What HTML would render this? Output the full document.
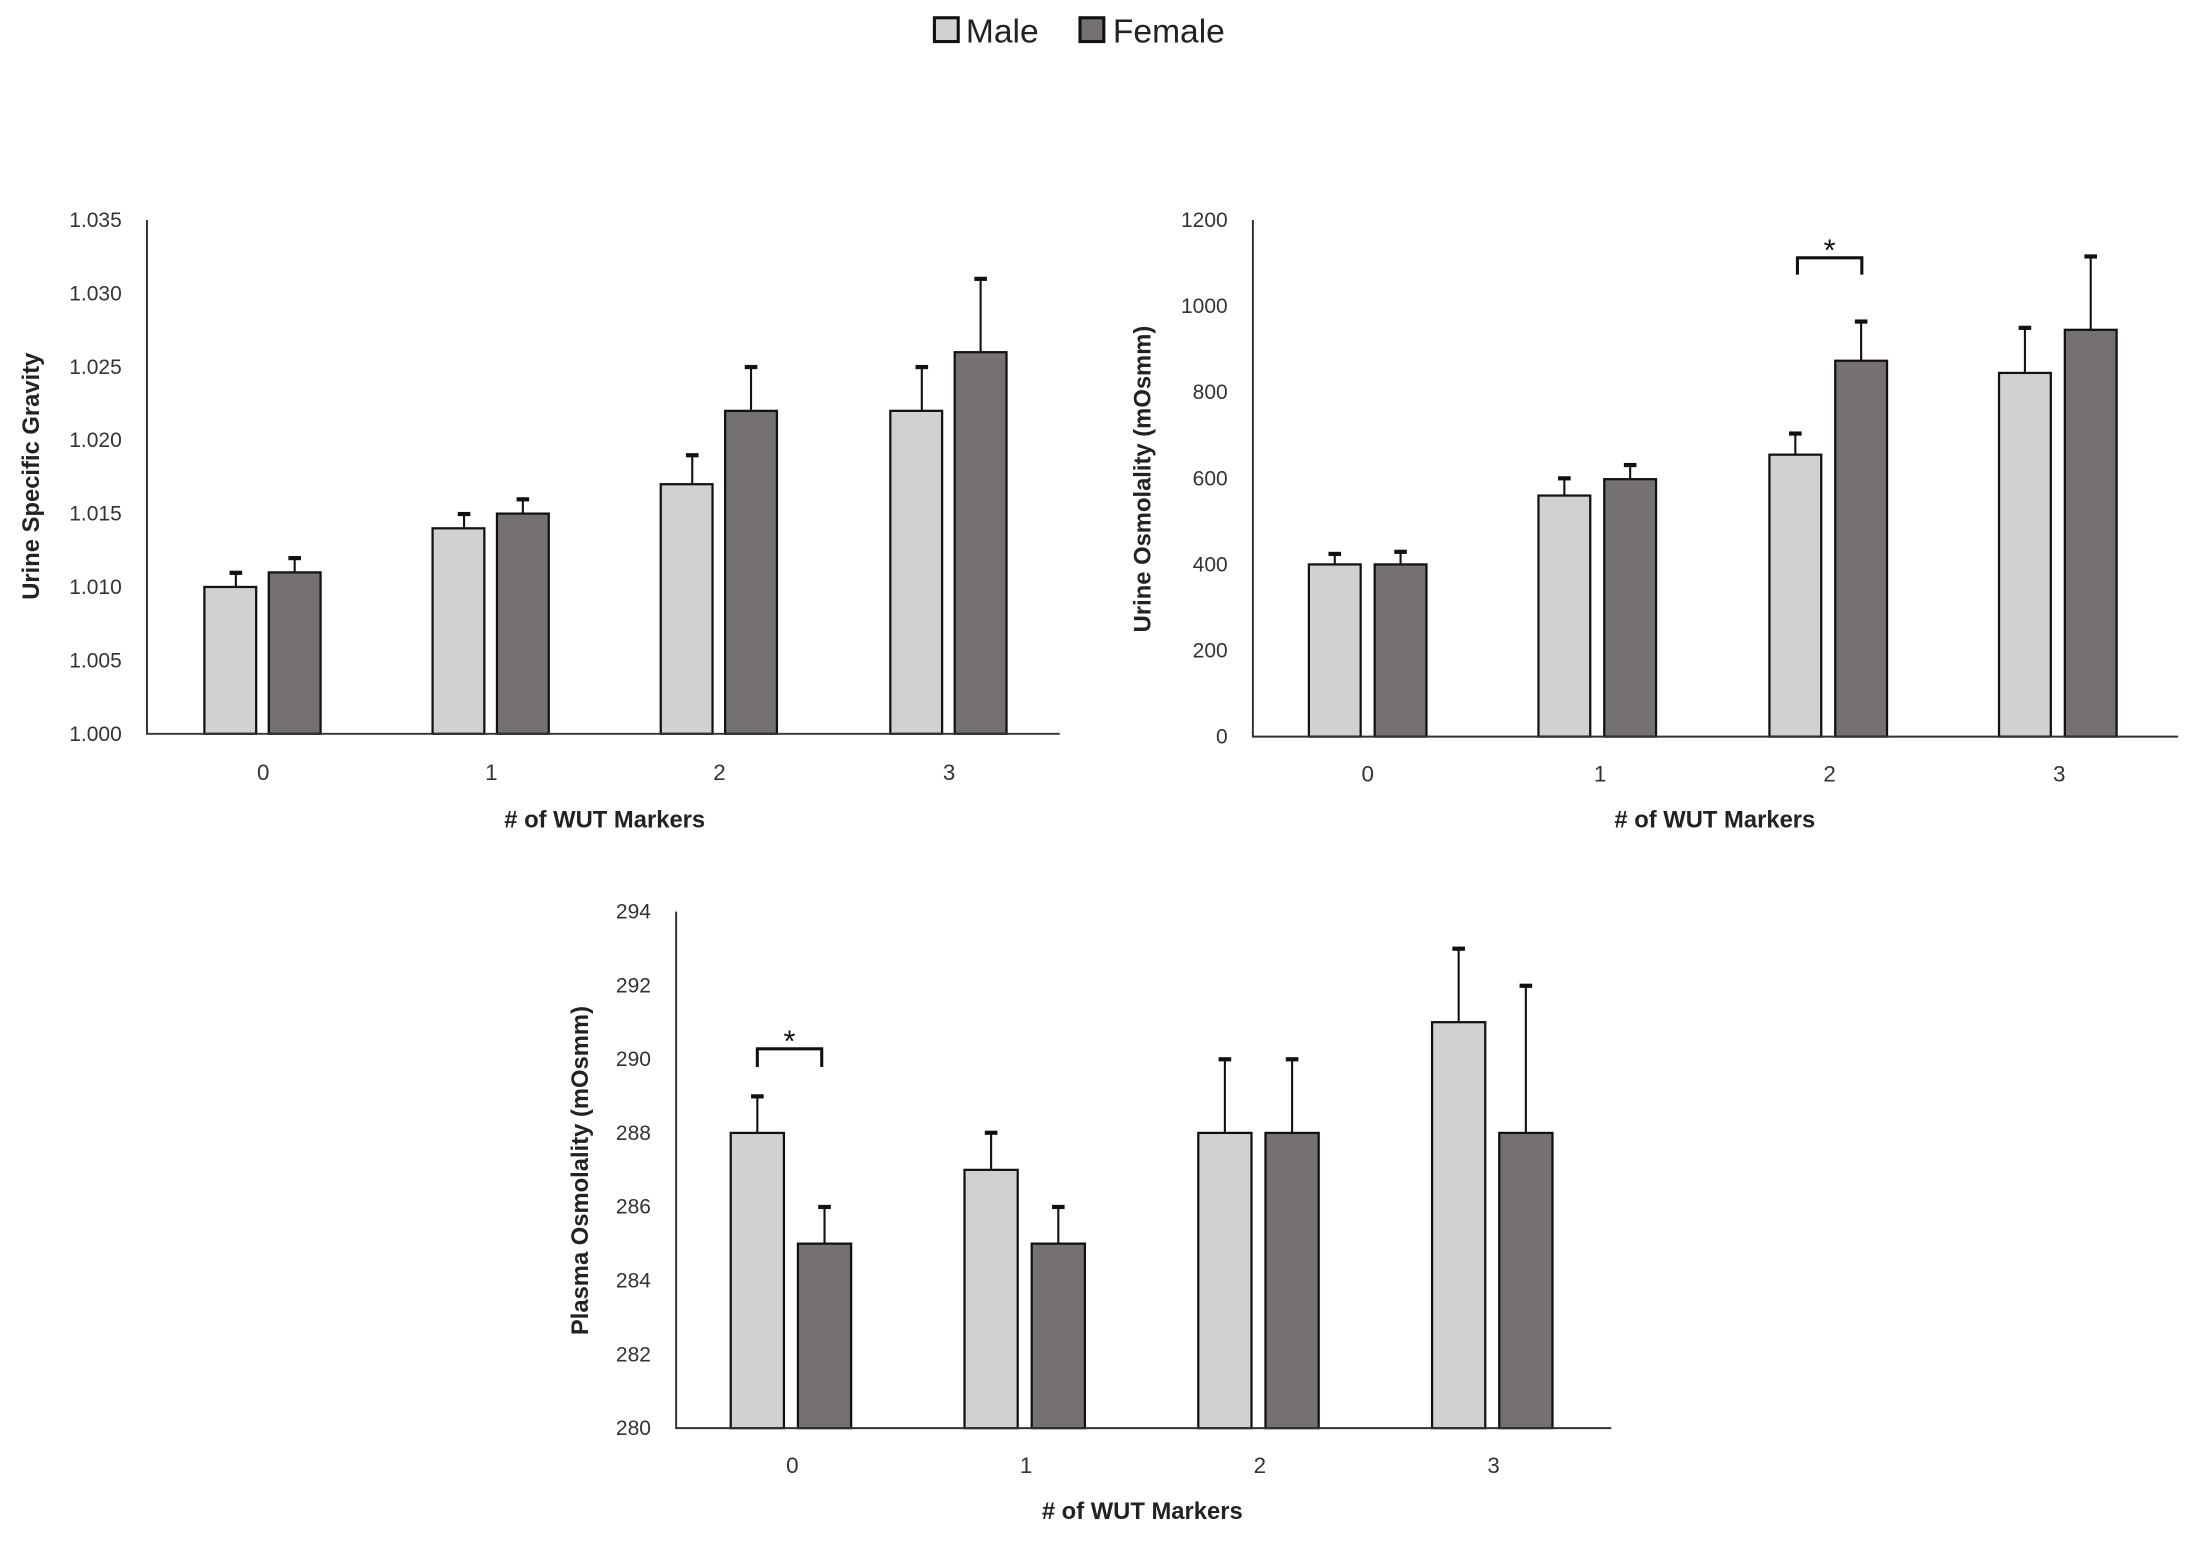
<!DOCTYPE html>
<html><head><meta charset="utf-8"><style>
html,body{margin:0;padding:0;background:#fff;}
svg{display:block;}
text{font-family:"Liberation Sans",sans-serif;}
.t{font-size:15px;fill:#333;}
.ti{font-size:16px;fill:#333;}
.ax{font-size:17px;font-weight:bold;fill:#222;}
.m{fill:#d2d0d0;stroke:#111;stroke-width:1.6;}
.f{fill:#757170;stroke:#111;stroke-width:1.6;}
.e{stroke:#111;stroke-width:1.5;fill:none;}
.c{stroke:#111;stroke-width:3;}
.axis{stroke:#333;stroke-width:1.4;fill:none;}
</style></head><body>
<svg width="2195" height="1546" viewBox="0 0 1568 1104" xmlns="http://www.w3.org/2000/svg">
<!-- legend -->
<rect x="667.5" y="12.5" width="17" height="17" fill="#d2d0d0" stroke="#111" stroke-width="2.2"/>
<text x="690" y="30" style="font-size:24px;fill:#222">Male</text>
<rect x="771.5" y="12.5" width="17" height="17" fill="#757170" stroke="#111" stroke-width="2.2"/>
<text x="795" y="30" style="font-size:24px;fill:#222">Female</text>

<!-- Chart 1 -->
<g>
<g class="t" text-anchor="end">
<text x="87" y="162">1.035</text><text x="87" y="214.4">1.030</text><text x="87" y="266.9">1.025</text>
<text x="87" y="319.3">1.020</text><text x="87" y="371.7">1.015</text><text x="87" y="424.1">1.010</text>
<text x="87" y="476.6">1.005</text><text x="87" y="529">1.000</text>
</g>
<text class="ax" transform="translate(28,340) rotate(-90)" text-anchor="middle">Urine Specific Gravity</text>
<line class="e" x1="168.5" y1="419.1" x2="168.5" y2="408.7"/><line class="c" x1="164" y1="409" x2="173" y2="409"/>
<line class="e" x1="331.5" y1="377.2" x2="331.5" y2="366.7"/><line class="c" x1="327" y1="367" x2="336" y2="367"/>
<line class="e" x1="494.5" y1="345.7" x2="494.5" y2="324.8"/><line class="c" x1="490" y1="325" x2="499" y2="325"/>
<line class="e" x1="658.5" y1="293.3" x2="658.5" y2="261.9"/><line class="c" x1="654" y1="262" x2="663" y2="262"/>
<line class="e" x1="210.5" y1="408.7" x2="210.5" y2="398.2"/><line class="c" x1="206" y1="398.5" x2="215" y2="398.5"/>
<line class="e" x1="373.5" y1="366.7" x2="373.5" y2="356.2"/><line class="c" x1="369" y1="356.5" x2="378" y2="356.5"/>
<line class="e" x1="536.5" y1="293.3" x2="536.5" y2="261.9"/><line class="c" x1="532" y1="262" x2="541" y2="262"/>
<line class="e" x1="700.5" y1="251.4" x2="700.5" y2="198.9"/><line class="c" x1="696" y1="199" x2="705" y2="199"/>
<rect class="m" x="146" y="419.1" width="37" height="104.9"/>
<rect class="m" x="309" y="377.2" width="37" height="146.8"/>
<rect class="m" x="472" y="345.7" width="37" height="178.3"/>
<rect class="m" x="636" y="293.3" width="37" height="230.7"/>
<rect class="f" x="192" y="408.7" width="37" height="115.3"/>
<rect class="f" x="355" y="366.7" width="37" height="157.3"/>
<rect class="f" x="518" y="293.3" width="37" height="230.7"/>
<rect class="f" x="682" y="251.4" width="37" height="272.6"/>
<polyline class="axis" points="105,157 105,524 757,524"/>
<g class="ti" text-anchor="middle">
<text x="188" y="557">0</text><text x="351" y="557">1</text><text x="514" y="557">2</text><text x="678" y="557">3</text>
</g>
<text class="ax" x="432" y="591" text-anchor="middle"># of WUT Markers</text>
</g>

<!-- Chart 2 -->
<g>
<g class="t" text-anchor="end">
<text x="877" y="162">1200</text><text x="877" y="223.5">1000</text><text x="877" y="285">800</text>
<text x="877" y="346.5">600</text><text x="877" y="408">400</text><text x="877" y="469.5">200</text><text x="877" y="531">0</text>
</g>
<text class="ax" transform="translate(822,342) rotate(-90)" text-anchor="middle">Urine Osmolality (mOsmm)</text>
<line class="e" x1="953.5" y1="403" x2="953.5" y2="395.3"/><line class="c" x1="949" y1="395.5" x2="958" y2="395.5"/>
<line class="e" x1="1117.5" y1="353.8" x2="1117.5" y2="341.5"/><line class="c" x1="1113" y1="341.5" x2="1122" y2="341.5"/>
<line class="e" x1="1282.5" y1="324.6" x2="1282.5" y2="309.2"/><line class="c" x1="1278" y1="309.5" x2="1287" y2="309.5"/>
<line class="e" x1="1446.5" y1="266.2" x2="1446.5" y2="233.9"/><line class="c" x1="1442" y1="234" x2="1451" y2="234"/>
<line class="e" x1="1000.5" y1="403" x2="1000.5" y2="393.8"/><line class="c" x1="996" y1="394" x2="1005" y2="394"/>
<line class="e" x1="1164.5" y1="342.1" x2="1164.5" y2="331.7"/><line class="c" x1="1160" y1="332" x2="1169" y2="332"/>
<line class="e" x1="1329.5" y1="257.5" x2="1329.5" y2="229.3"/><line class="c" x1="1325" y1="229.5" x2="1334" y2="229.5"/>
<line class="e" x1="1493.5" y1="235.4" x2="1493.5" y2="183.1"/><line class="c" x1="1489" y1="183" x2="1498" y2="183"/>
<rect class="m" x="935" y="403" width="37" height="123"/>
<rect class="m" x="1099" y="353.8" width="37" height="172.2"/>
<rect class="m" x="1264" y="324.6" width="37" height="201.4"/>
<rect class="m" x="1428" y="266.2" width="37" height="259.8"/>
<rect class="f" x="982" y="403" width="37" height="123"/>
<rect class="f" x="1146" y="342.1" width="37" height="183.9"/>
<rect class="f" x="1311" y="257.5" width="37" height="268.5"/>
<rect class="f" x="1475" y="235.4" width="37" height="290.6"/>
<polyline class="axis" points="895,157 895,526 1556,526"/>
<polyline points="1284,196 1284,184 1330,184 1330,196" fill="none" stroke="#111" stroke-width="2.2"/>
<text x="1307" y="186" text-anchor="middle" style="font-size:22px;fill:#111">*</text>
<g class="ti" text-anchor="middle">
<text x="977" y="558">0</text><text x="1143" y="558">1</text><text x="1307" y="558">2</text><text x="1471" y="558">3</text>
</g>
<text class="ax" x="1225" y="591" text-anchor="middle"># of WUT Markers</text>
</g>

<!-- Chart 3 -->
<g>
<g class="t" text-anchor="end">
<text x="465" y="656">294</text><text x="465" y="708.7">292</text><text x="465" y="761.4">290</text>
<text x="465" y="814.1">288</text><text x="465" y="866.8">286</text><text x="465" y="919.6">284</text>
<text x="465" y="972.3">282</text><text x="465" y="1025">280</text>
</g>
<text class="ax" transform="translate(420,836) rotate(-90)" text-anchor="middle">Plasma Osmolality (mOsmm)</text>
<line class="e" x1="541" y1="809.1" x2="541" y2="782.8"/><line class="c" x1="536.5" y1="783" x2="545.5" y2="783"/>
<line class="e" x1="708" y1="835.5" x2="708" y2="809.1"/><line class="c" x1="703.5" y1="809" x2="712.5" y2="809"/>
<line class="e" x1="875" y1="809.1" x2="875" y2="756.4"/><line class="c" x1="870.5" y1="756.5" x2="879.5" y2="756.5"/>
<line class="e" x1="1042" y1="730" x2="1042" y2="677.3"/><line class="c" x1="1037.5" y1="677.5" x2="1046.5" y2="677.5"/>
<line class="e" x1="589" y1="888.2" x2="589" y2="861.8"/><line class="c" x1="584.5" y1="862" x2="593.5" y2="862"/>
<line class="e" x1="756" y1="888.2" x2="756" y2="861.8"/><line class="c" x1="751.5" y1="862" x2="760.5" y2="862"/>
<line class="e" x1="923" y1="809.1" x2="923" y2="756.4"/><line class="c" x1="918.5" y1="756.5" x2="927.5" y2="756.5"/>
<line class="e" x1="1090" y1="809.1" x2="1090" y2="703.7"/><line class="c" x1="1085.5" y1="704" x2="1094.5" y2="704"/>
<rect class="m" x="522" y="809.1" width="38" height="210.9"/>
<rect class="m" x="689" y="835.5" width="38" height="184.5"/>
<rect class="m" x="856" y="809.1" width="38" height="210.9"/>
<rect class="m" x="1023" y="730" width="38" height="290"/>
<rect class="f" x="570" y="888.2" width="38" height="131.8"/>
<rect class="f" x="737" y="888.2" width="38" height="131.8"/>
<rect class="f" x="904" y="809.1" width="38" height="210.9"/>
<rect class="f" x="1071" y="809.1" width="38" height="210.9"/>
<polyline class="axis" points="483,651 483,1020 1151,1020"/>
<polyline points="541,762 541,749 587,749 587,762" fill="none" stroke="#111" stroke-width="2.2"/>
<text x="564" y="751" text-anchor="middle" style="font-size:22px;fill:#111">*</text>
<g class="ti" text-anchor="middle">
<text x="566" y="1052">0</text><text x="733" y="1052">1</text><text x="900" y="1052">2</text><text x="1067" y="1052">3</text>
</g>
<text class="ax" x="816" y="1085" text-anchor="middle"># of WUT Markers</text>
</g>
</svg>
</body></html>
